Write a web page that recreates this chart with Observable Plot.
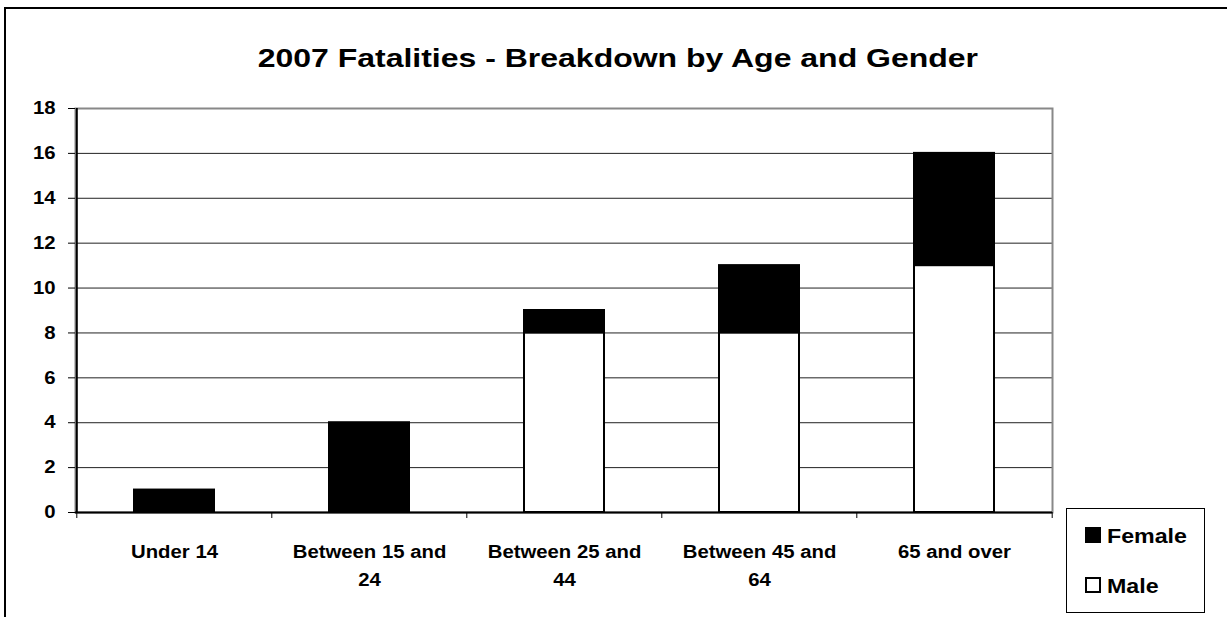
<!DOCTYPE html>
<html>
<head>
<meta charset="utf-8">
<script src="https://cdn.jsdelivr.net/npm/d3@7"></script>
<script src="https://cdn.jsdelivr.net/npm/@observablehq/plot@0.6"></script>
<style>
  html, body { margin: 0; padding: 0; background: #fff; }
  #wrap { position: relative; width: 1227px; height: 617px; overflow: hidden;
          font-family: "Liberation Sans", Arial, sans-serif; font-weight: bold; color: #000; background: #fff; }
  #wrap svg { position: absolute; left: 0; top: 0; }
  .border { position: absolute; left: 4px; top: 7px; width: 1400px; height: 800px;
            border-top: 2px solid #000; border-left: 2px solid #000; }
  .title { position: absolute; left: 0; width: 1235px; top: 45px; text-align: center;
           font-size: 26px; line-height: 1; white-space: nowrap; }
  .title span { display: inline-block; transform: scaleX(1.23); transform-origin: center; }
  .legend { position: absolute; left: 1066px; top: 508px; width: 137px; height: 103px;
            border: 1px solid #000; background: #fff; }
  .sw { position: absolute; width: 16px; height: 16px; box-sizing: border-box; border: 2px solid #000; }
  .lt { position: absolute; font-size: 20px; line-height: 1; white-space: nowrap;
        transform: scaleX(1.16); transform-origin: left center; }
</style>
</head>
<body>
<div id="wrap"></div>
<script>
// ---- data ----
const title = "2007 Fatalities - Breakdown by Age and Gender";
const categories = ["Under 14", "Between 15 and 24", "Between 25 and 44", "Between 45 and 64", "65 and over"];
const tickLabels = ["Under 14", "Between 15 and\n24", "Between 25 and\n44", "Between 45 and\n64", "65 and over"];
const seriesNames = ["Male", "Female"];
const male = [0, 0, 8, 8, 11];
const female = [1, 4, 1, 3, 5];
const yTicks = [0, 2, 4, 6, 8, 10, 12, 14, 16, 18];
const legendItems = ["Female", "Male"];

// ---- layout ----
const W = 1227, H = 617;
const mL = 75, mR = 175, mT = 108, mB = 105;
const plotH = H - mT - mB;
const step = (W - mL - mR) / categories.length;

const rows = [];
categories.forEach((c, i) => {
  if (male[i] > 0) rows.push({age: c, gender: "Male", value: male[i]});
  if (female[i] > 0) rows.push({age: c, gender: "Female", value: female[i]});
});

const chart = Plot.plot({
  width: W, height: H,
  marginLeft: mL, marginRight: mR, marginTop: mT, marginBottom: mB,
  style: {fontFamily: "'Liberation Sans', Arial, sans-serif", fontSize: "18px", fontWeight: "bold",
          color: "#000", background: "transparent", overflow: "visible"},
  x: {domain: categories, paddingInner: 0.59, paddingOuter: 0.295, label: null},
  y: {domain: [0, 18], label: null},
  color: {domain: seriesNames, range: ["#ffffff", "#000000"]},
  marks: [
    Plot.gridY(yTicks.filter(v => v > 0 && v < 18), {stroke: "#222", strokeOpacity: 1, strokeWidth: 1}),
    Plot.frame({stroke: "#888", strokeWidth: 2}),
    Plot.barY(rows, Plot.stackY({x: "age", y: "value", fill: "gender", order: seriesNames,
                                 stroke: "#000", strokeWidth: 2})),
    Plot.ruleY([0], {stroke: "#000", strokeWidth: 2}),
    Plot.ruleX([categories[0]], {x: d => d, dx: -step / 2, stroke: "#000", strokeWidth: 2}),
    Plot.ruleX(categories, {x: d => d, dx: -step / 2, insetTop: plotH, insetBottom: -6, stroke: "#000"}),
    Plot.ruleX([categories[categories.length - 1]], {x: d => d, dx: step / 2, insetTop: plotH, insetBottom: -6, stroke: "#000"}),
    Plot.axisY(yTicks, {tickSize: 7, tickPadding: 13, stroke: "#000", label: null}),
    Plot.axisX({tickSize: 0, tickPadding: 26, lineHeight: 1.55, label: null,
                tickFormat: d => tickLabels[categories.indexOf(d)]})
  ]
});

// horizontally stretch tick labels like the reference
chart.querySelectorAll("text").forEach(t => {
  const tr = t.getAttribute("transform") || "";
  t.setAttribute("transform", tr + " scale(1.13,1)");
});

const wrap = document.getElementById("wrap");
wrap.appendChild(chart);

const border = document.createElement("div");
border.className = "border";
wrap.appendChild(border);

const t = document.createElement("div");
t.className = "title";
const ts = document.createElement("span");
ts.textContent = title;
t.appendChild(ts);
wrap.appendChild(t);

const legend = document.createElement("div");
legend.className = "legend";
wrap.appendChild(legend);
const legendFill = {Female: "#000", Male: "#fff"};
legendItems.forEach((name, i) => {
  const y0 = 527 + i * 50;
  const sw = document.createElement("div");
  sw.className = "sw";
  sw.style.left = "1085px";
  sw.style.top = y0 + "px";
  sw.style.background = legendFill[name];
  wrap.appendChild(sw);
  const lt = document.createElement("div");
  lt.className = "lt";
  lt.style.left = "1107px";
  lt.style.top = (y0 - 1) + "px";
  lt.textContent = name;
  wrap.appendChild(lt);
});
</script>
</body>
</html>
